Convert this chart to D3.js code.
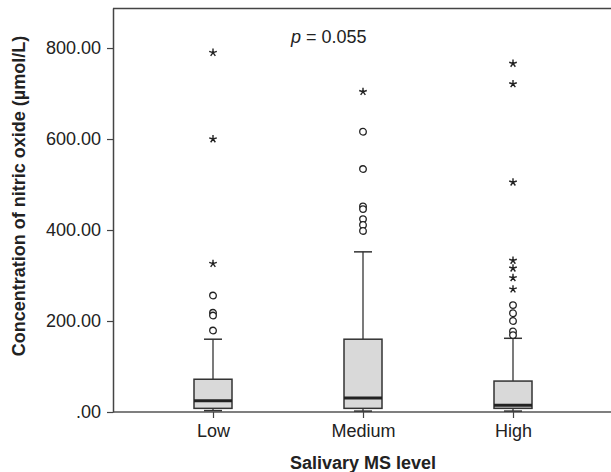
<!DOCTYPE html>
<html>
<head>
<meta charset="utf-8">
<script src="https://cdn.jsdelivr.net/npm/d3@7"></script>
<style>
  body { margin: 0; background: #fff; }
  text { font-family: "Liberation Sans", Arial, sans-serif; fill: #222; }
</style>
</head>
<body>
<div id="chart"></div>
<script>
const categories = ["Low", "Medium", "High"]
const q1 = [8, 8, 8]
const medians = [25, 31, 15]
const q3 = [72, 160, 68]
const whiskerLow = [3, 2, 2]
const whiskerHigh = [160, 352, 162]
// outliers drawn as circles, extremes drawn as stars
const circleOutliers = [
    [256, 218, 212, 179],
    [616, 534, 452, 446, 424, 411, 398],
    [235, 217, 200, 177, 169]
]
const starOutliers = [
    [790, 600, 326],
    [704],
    [766, 721, 505, 333, 316, 295, 270]
]
const yTicks = [0, 200, 400, 600, 800]

const width = 611
const height = 472
const margin = { top: 8, left: 113, bottom: 60, right: 0 }
const iwidth = width - margin.left - margin.right
const iheight = height - margin.top - margin.bottom

const svg = d3.select("#chart").append("svg")
    .attr("width", width)
    .attr("height", height)

const g = svg.append("g")
    .attr("transform", `translate(${margin.left}, ${margin.top})`)

const x = d3.scalePoint()
    .domain(categories)
    .range([25, 475])
    .padding(0.5)

const y = d3.scaleLinear()
    .domain([0, 888])
    .range([iheight, 0])

const boxes = categories.map((c, i) => ({
    cat: c, q1: q1[i], med: medians[i], q3: q3[i],
    lo: whiskerLow[i], hi: whiskerHigh[i],
    circles: circleOutliers[i], stars: starOutliers[i]
}))

const boxW = 38
const capW = 18
const lineColor = "#333"

// frame: top and bottom lines run to the right edge
g.append("line")
    .attr("x1", 0).attr("x2", iwidth)
    .attr("y1", 0.5).attr("y2", 0.5)
    .attr("stroke", "#444").attr("stroke-width", 1.5)
g.append("line")
    .attr("x1", 0).attr("x2", iwidth)
    .attr("y1", y(0)).attr("y2", y(0))
    .attr("stroke", "#555").attr("stroke-width", 1.5)

// y axis
const yAxis = g.append("g")
    .call(d3.axisLeft(y)
        .tickValues(yTicks)
        .tickSize(6)
        .tickSizeOuter(0)
        .tickPadding(6)
        .tickFormat(d => d === 0 ? ".00" : d3.format(".2f")(d)))
yAxis.select(".domain").attr("stroke", "#444").attr("stroke-width", 1.5)
yAxis.selectAll(".tick line").attr("stroke", "#444").attr("stroke-width", 1.2)
yAxis.selectAll("text").attr("font-size", 18).attr("fill", "#222")

// x axis
const xAxis = g.append("g")
    .attr("transform", `translate(0, ${iheight})`)
    .call(d3.axisBottom(x).tickSize(6).tickPadding(6))
xAxis.select(".domain").remove()
xAxis.selectAll(".tick line").attr("stroke", "#444").attr("stroke-width", 1.2)
xAxis.selectAll("text").attr("font-size", 18).attr("fill", "#222")

const bg = g.selectAll(".box").data(boxes).join("g")
    .attr("class", "box")
    .attr("transform", d => `translate(${x(d.cat)}, 0)`)

// whiskers
bg.append("line")
    .attr("x1", 0).attr("x2", 0)
    .attr("y1", d => y(d.hi)).attr("y2", d => y(d.q3))
    .attr("stroke", lineColor).attr("stroke-width", 1.3)
bg.append("line")
    .attr("x1", 0).attr("x2", 0)
    .attr("y1", d => y(d.q1)).attr("y2", d => y(d.lo))
    .attr("stroke", lineColor).attr("stroke-width", 1.3)
bg.append("line")
    .attr("x1", -capW / 2).attr("x2", capW / 2)
    .attr("y1", d => y(d.hi)).attr("y2", d => y(d.hi))
    .attr("stroke", lineColor).attr("stroke-width", 1.5)
bg.append("line")
    .attr("x1", -capW / 2).attr("x2", capW / 2)
    .attr("y1", d => y(d.lo)).attr("y2", d => y(d.lo))
    .attr("stroke", lineColor).attr("stroke-width", 1.5)

// box
bg.append("rect")
    .attr("x", -boxW / 2)
    .attr("width", boxW)
    .attr("y", d => y(d.q3))
    .attr("height", d => y(d.q1) - y(d.q3))
    .attr("fill", "#d9d9d9")
    .attr("stroke", lineColor)
    .attr("stroke-width", 1.5)

// median
bg.append("line")
    .attr("x1", -boxW / 2).attr("x2", boxW / 2)
    .attr("y1", d => y(d.med)).attr("y2", d => y(d.med))
    .attr("stroke", "#222").attr("stroke-width", 3)

// circle outliers
bg.selectAll("circle").data(d => d.circles).join("circle")
    .attr("cx", 0)
    .attr("cy", d => y(d))
    .attr("r", 3.3)
    .attr("fill", "#fff")
    .attr("stroke", "#222")
    .attr("stroke-width", 1.3)

// star outliers: five-armed asterisk
const asterisk = r => {
    const p = d3.path()
    for (let k = 0; k < 5; k++) {
        const a = -Math.PI / 2 + k * 2 * Math.PI / 5
        p.moveTo(0, 0)
        p.lineTo(r * Math.cos(a), r * Math.sin(a))
    }
    return p.toString()
}
bg.selectAll(".star").data(d => d.stars).join("path")
    .attr("class", "star")
    .attr("transform", d => `translate(0, ${y(d)})`)
    .attr("d", asterisk(4))
    .attr("stroke", "#222")
    .attr("stroke-width", 1.4)
    .attr("fill", "none")

// p value
const pText = svg.append("text")
    .attr("x", 291)
    .attr("y", 43)
    .attr("font-size", 18)
pText.append("tspan").attr("font-style", "italic").text("p")
pText.append("tspan").text(" = 0.055")

// axis titles
svg.append("text")
    .attr("transform", `translate(25, 196) rotate(-90)`)
    .attr("text-anchor", "middle")
    .attr("font-size", 18)
    .attr("font-weight", "bold")
    .text("Concentration of nitric oxide (\u00b5mol/L)")

svg.append("text")
    .attr("x", 363)
    .attr("y", 469)
    .attr("text-anchor", "middle")
    .attr("font-size", 18)
    .attr("font-weight", "bold")
    .text("Salivary MS level")
</script>
</body>
</html>
